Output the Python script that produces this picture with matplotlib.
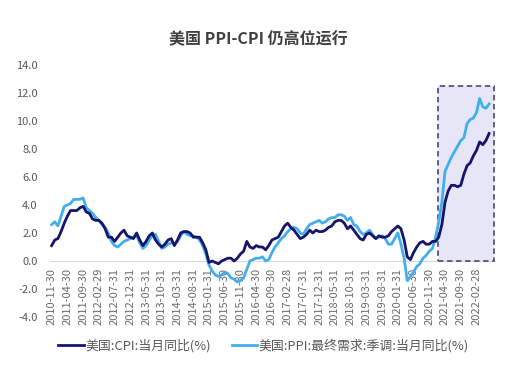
import numpy as np
import pandas as pd
import matplotlib
matplotlib.use("Agg")
import matplotlib.pyplot as plt
from matplotlib.patches import Rectangle

plt.rcParams['font.family'] = ['Noto Sans CJK SC', 'DejaVu Sans']

# month-end dates, 2010-11 .. 2022-06
dates = pd.date_range('2010-11-30', periods=140, freq='ME')

cpi = [1.1, 1.5,
       1.6, 2.1, 2.7, 3.2, 3.6, 3.6, 3.6, 3.8, 3.9, 3.5, 3.4, 3.0,
       2.9, 2.9, 2.7, 2.3, 1.7, 1.7, 1.4, 1.7, 2.0, 2.2, 1.8, 1.7,
       1.6, 2.0, 1.5, 1.1, 1.4, 1.8, 2.0, 1.5, 1.2, 1.0, 1.2, 1.5,
       1.6, 1.1, 1.5, 2.0, 2.1, 2.1, 2.0, 1.7, 1.7, 1.7, 1.3, 0.8,
       -0.1, 0.0, -0.1, -0.2, 0.0, 0.1, 0.2, 0.2, 0.0, 0.2, 0.5, 0.7,
       1.4, 1.0, 0.9, 1.1, 1.0, 1.0, 0.8, 1.1, 1.5, 1.6, 1.7, 2.1,
       2.5, 2.7, 2.4, 2.2, 1.9, 1.6, 1.7, 1.9, 2.2, 2.0, 2.2, 2.1,
       2.1, 2.2, 2.4, 2.5, 2.8, 2.9, 2.9, 2.7, 2.3, 2.5, 2.2, 1.9,
       1.6, 1.5, 1.9, 2.0, 1.8, 1.6, 1.8, 1.7, 1.7, 1.8, 2.1, 2.3,
       2.5, 2.3, 1.5, 0.3, 0.1, 0.6, 1.0, 1.3, 1.4, 1.2, 1.2, 1.4,
       1.4, 1.7, 2.6, 4.2, 5.0, 5.4, 5.4, 5.3, 5.4, 6.2, 6.8, 7.0,
       7.5, 7.9, 8.5, 8.3, 8.6, 9.1]

ppi = [2.6, 2.8,
       2.5, 3.2, 3.9, 4.0, 4.1, 4.4, 4.4, 4.4, 4.5, 3.8, 3.6, 3.4,
       3.1, 2.9, 2.6, 2.4, 2.0, 1.4, 1.1, 1.0, 1.2, 1.4, 1.5, 1.6,
       1.7, 1.8, 1.3, 0.9, 1.1, 1.5, 1.8, 1.9, 1.4, 0.9, 1.0, 1.2,
       1.3, 1.2, 1.4, 1.8, 2.1, 1.9, 1.8, 1.8, 1.7, 1.5, 1.1, 0.5,
       -0.3, -0.7, -1.0, -1.1, -1.0, -0.8, -0.9, -1.2, -1.3, -1.5, -1.4, -1.2,
       -0.6, 0.0, 0.1, 0.2, 0.2, 0.3, 0.0, 0.1, 0.6, 1.0, 1.3, 1.6,
       1.8, 2.1, 2.3, 2.4, 2.3, 2.0, 1.9, 2.3, 2.6, 2.7, 2.8, 2.9,
       2.7, 2.8, 3.0, 3.1, 3.1, 3.3, 3.3, 3.2, 2.9, 3.1, 2.6, 2.5,
       2.1, 1.9, 2.0, 2.2, 1.9, 1.6, 1.7, 1.8, 1.6, 1.2, 1.2, 1.6,
       2.0, 1.2, 0.2, -1.4, -1.1, -0.8, -0.4, -0.2, 0.2, 0.4, 0.7, 0.9,
       1.7, 2.8, 4.2, 6.4, 6.9, 7.4, 7.8, 8.2, 8.6, 8.8, 9.8, 10.1,
       10.2, 10.6, 11.6, 11.0, 10.9, 11.2]

cpi_label = '美国:CPI:当月同比(%)'
ppi_label = '美国:PPI:最终需求:季调:当月同比(%)'
title = '美国 PPI-CPI 仍高位运行'
yticks = [-4, -2, 0, 2, 4, 6, 8, 10, 12, 14]

x = np.arange(len(dates))
tick_pos = x[::5]
tick_labels = [d.strftime('%Y-%m-%d') for d in dates[::5]]

fig = plt.figure(figsize=(5.27, 3.77), dpi=100)
ax = fig.add_axes([0.095, 0.159, 0.845, 0.669])

for s in ['top', 'right', 'left']:
    ax.spines[s].set_visible(False)
# category axis crosses at zero (set before tick labels, it resets ticks)
ax.spines['bottom'].set_position(('data', 0))
ax.spines['bottom'].set_color('#d9d9d9')
ax.spines['bottom'].set_zorder(0)

# highlight box for the recent surge
ax.add_patch(Rectangle((122.7, 0), 17.9, 12.5, facecolor='#e6e6f7',
                       edgecolor='#55557f', linestyle=(0, (3, 2)),
                       linewidth=1.3, zorder=1))

ax.plot(x, cpi, color='#15156b', lw=2.0, label=cpi_label, zorder=3)
ax.plot(x, ppi, color='#42aef0', lw=2.0, label=ppi_label, zorder=2)

ax.set_xlim(-0.5, 141)
ax.set_ylim(-4, 14)
ax.tick_params(length=0)
ax.tick_params(axis='x', pad=5)
ax.tick_params(axis='y', pad=9)
ax.set_yticks(yticks)
ax.set_yticklabels([f'{v:.1f}' for v in yticks], fontsize=8, color='#595959')
ax.set_xticks(tick_pos)
ax.set_xticklabels(tick_labels, rotation=90, fontsize=8, color='#6b6b6b')

fig.text(0.49, 0.895, title, ha='center', va='center', fontsize=11.5,
         fontweight='bold', color='#404040')

fig.legend(loc='center', bbox_to_anchor=(0.5, 0.083), ncol=2, frameon=False,
           fontsize=9.3, labelcolor='#595959', handlelength=2.0,
           handletextpad=0.1, columnspacing=1.6)

fig.savefig('out.png', dpi=100)
